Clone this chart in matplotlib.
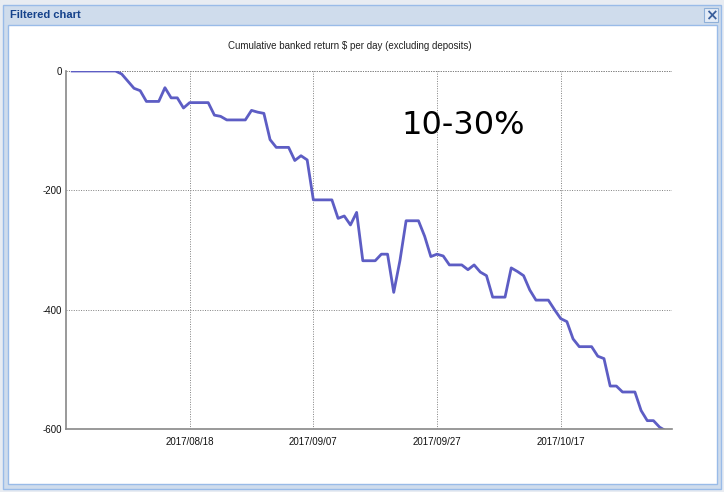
import matplotlib
matplotlib.use("Agg")
import matplotlib.pyplot as plt
import matplotlib.dates as mdates
from matplotlib.patches import Rectangle
import pandas as pd

plt.rcParams["axes.unicode_minus"] = False

# kink points of the cumulative line
dates = ["2017-07-30", "2017-08-06", "2017-08-07", "2017-08-09", "2017-08-10",
         "2017-08-11", "2017-08-13", "2017-08-14", "2017-08-15", "2017-08-16",
         "2017-08-17", "2017-08-18", "2017-08-21", "2017-08-22", "2017-08-23",
         "2017-08-24", "2017-08-27", "2017-08-28", "2017-08-29", "2017-08-30",
         "2017-08-31", "2017-09-01", "2017-09-03", "2017-09-04", "2017-09-05",
         "2017-09-06", "2017-09-07", "2017-09-10", "2017-09-11", "2017-09-12",
         "2017-09-13", "2017-09-14", "2017-09-15", "2017-09-17", "2017-09-18",
         "2017-09-19", "2017-09-20", "2017-09-21", "2017-09-22", "2017-09-24",
         "2017-09-25", "2017-09-26", "2017-09-27", "2017-09-28", "2017-09-29",
         "2017-10-01", "2017-10-02", "2017-10-03", "2017-10-04", "2017-10-05",
         "2017-10-06", "2017-10-08", "2017-10-09", "2017-10-10", "2017-10-11",
         "2017-10-12", "2017-10-13", "2017-10-15", "2017-10-16", "2017-10-17",
         "2017-10-18", "2017-10-19", "2017-10-20", "2017-10-22", "2017-10-23",
         "2017-10-24", "2017-10-25", "2017-10-26", "2017-10-27", "2017-10-29",
         "2017-10-30", "2017-10-31", "2017-11-01", "2017-11-02", "2017-11-03"]
values = [0, 0, -5, -29, -33,
          -51, -51, -28, -45, -45,
          -62, -53, -53, -74, -76,
          -82, -82, -66, -69, -71,
          -115, -128, -128, -150, -142,
          -149, -216, -216, -247, -243,
          -258, -237, -318, -318, -307,
          -307, -371, -318, -251, -251,
          -277, -311, -307, -310, -325,
          -325, -333, -325, -337, -343,
          -379, -379, -330, -336, -343,
          -367, -384, -384, -400, -415,
          -420, -449, -462, -462, -478,
          -482, -528, -528, -538, -538,
          -569, -586, -586, -597, -603]
tick_dates = ["2017-08-18", "2017-09-07", "2017-09-27", "2017-10-17"]
y_ticks = [0, -200, -400, -600]

title = "Cumulative banked return $ per day (excluding deposits)"
note = "10-30%"

W, H = 724, 492
fig = plt.figure(figsize=(W / 100, H / 100), dpi=100, facecolor="#c9d6e6")

# dialog chrome drawn in pixel coords
bg = fig.add_axes([0, 0, 1, 1], zorder=-10)
bg.set_xlim(0, W)
bg.set_ylim(H, 0)
bg.axis("off")
bg.add_patch(Rectangle((0, 0), W, H, color="#e8ecf2"))
bg.add_patch(Rectangle((3, 5), 718, 484, facecolor="#cfdcec", edgecolor="#99bbe8", lw=1))
bg.add_patch(Rectangle((8, 25), 709, 459, facecolor="white", edgecolor="#99bbe8", lw=1))
bg.text(10, 15, "Filtered chart", fontsize=8, fontweight="bold", color="#15428b",
        family="Liberation Sans", va="center")
bg.add_patch(Rectangle((704, 8), 14, 14, facecolor="#e4ecf7", edgecolor="#8fb0d8", lw=0.8))
bg.text(711, 15.5, "\u00d7", fontsize=11, fontweight="bold", color="#3a5f9c",
        ha="center", va="center")

ax = fig.add_axes([66 / W, 1 - 429 / H, (672 - 66) / W, (429 - 71) / H])
x = pd.to_datetime(dates)
ax.plot(x, values, color="#5d5dc4", lw=2.0, solid_joinstyle="round")

ax.set_xlim(pd.Timestamp("2017-07-29"), pd.Timestamp("2017-11-04"))
ax.set_ylim(-600, 0)
ax.set_yticks(y_ticks)
ax.set_xticks(pd.to_datetime(tick_dates))
ax.xaxis.set_major_formatter(mdates.DateFormatter("%Y/%m/%d"))
ax.tick_params(length=0, labelsize=7, colors="#111111")
ax.tick_params(axis="x", pad=6)
ax.tick_params(axis="y", pad=3)
for lab in ax.get_xticklabels() + ax.get_yticklabels():
    lab.set_family("Liberation Sans")

ax.grid(True, color="#808080", ls=(0, (1, 1.5)), lw=0.7)
ax.axhline(0, color="#808080", ls=(0, (1, 1.5)), lw=0.7, zorder=0)
for side in ["top", "right"]:
    ax.spines[side].set_visible(False)
for side in ["left", "bottom"]:
    ax.spines[side].set_color("#888888")
    ax.spines[side].set_linewidth(1.2)
ax.set_facecolor("none")

fig.text(350 / W, 1 - 46 / H, title, fontsize=7, family="Liberation Sans",
         ha="center", va="center", color="#222222")
fig.text(463 / W, 1 - 125 / H, note, fontsize=23, family="DejaVu Sans",
         ha="center", va="center", color="black")

fig.savefig("out.png", dpi=100)
